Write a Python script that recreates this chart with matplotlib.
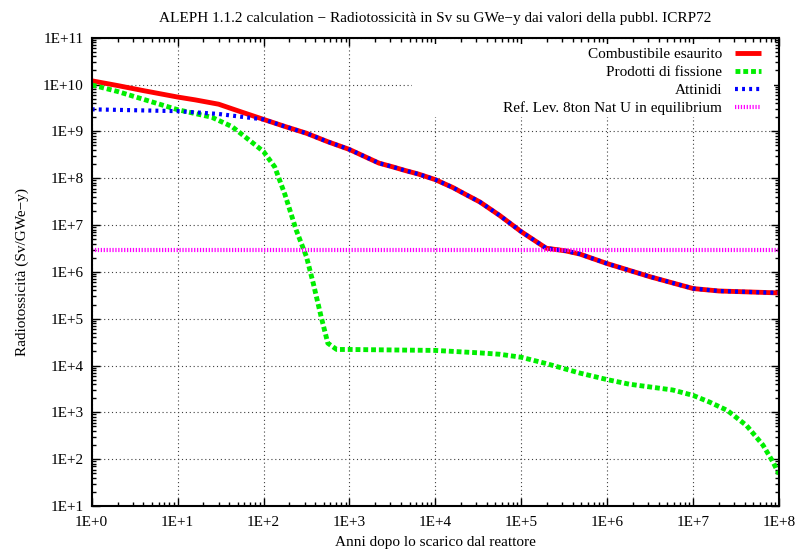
import numpy as np
import matplotlib
matplotlib.use('Agg')
import matplotlib.pyplot as plt
from matplotlib.patches import Rectangle
from matplotlib.ticker import LogLocator, FuncFormatter, NullFormatter

plt.rcParams['font.family'] = ['Liberation Serif', 'DejaVu Serif']
plt.rcParams['font.size'] = 11

# anni dopo lo scarico / radiotossicita' (Sv/GWe-y)
t_comb = [1, 2, 4, 10, 16, 30, 55, 100, 180, 316, 560, 1e3, 1.6e3, 2.2e3, 3.2e3, 4.5e3,
          6.3e3, 1e4, 1.6e4, 2.3e4, 3.3e4, 5.6e4, 1e5, 1.95e5, 3.3e5, 4.8e5, 1e6, 3.2e6,
          1e7, 2e7, 1e8]
v_comb = [1.2e10, 9.5e9, 7.4e9, 5.4e9, 4.7e9, 3.8e9, 2.6e9, 1.8e9, 1.26e9, 9.1e8, 6.0e8,
          4.1e8, 2.75e8, 2.1e8, 1.74e8, 1.45e8, 1.23e8, 9.3e7, 6.3e7, 4.4e7, 3.1e7, 1.6e7,
          7.2e6, 3.2e6, 2.8e6, 2.4e6, 1.5e6, 7.8e5, 4.4e5, 3.9e5, 3.55e5]

t_pf = [1, 2, 4.2, 10, 25, 43, 72, 100, 135, 178, 240, 316, 380, 468, 560, 710, 1e3,
        1e4, 3.3e4, 5.6e4, 1e5, 1.95e5, 4.8e5, 1e6, 1.8e6, 5.8e6, 1e7, 1.55e7, 2.5e7,
        4.2e7, 6.5e7, 8.5e7, 1e8]
v_pf = [9.8e9, 7.1e9, 4.7e9, 2.9e9, 2.0e9, 1.26e9, 6.0e8, 3.7e8, 1.74e8, 4.4e7, 7.8e6,
        2.1e6, 5.6e5, 1.1e5, 3.0e4, 2.2e4, 2.2e4, 2.1e4, 1.86e4, 1.74e4, 1.5e4, 1.1e4,
        6.9e3, 5.0e3, 4.0e3, 3.0e3, 2.3e3, 1.66e3, 1.1e3, 520, 200, 87, 48]

t_att = [1, 10, 30, 55, 100, 180, 316, 560, 1e3, 1.6e3, 2.2e3, 3.2e3, 4.5e3, 6.3e3, 1e4,
         1.6e4, 2.3e4, 3.3e4, 5.6e4, 1e5, 1.95e5, 3.3e5, 4.8e5, 1e6, 3.2e6, 1e7, 2e7, 1e8]
v_att = [2.95e9, 2.7e9, 2.35e9, 2.05e9, 1.8e9, 1.26e9, 9.1e8, 6.0e8, 4.1e8, 2.75e8,
         2.1e8, 1.74e8, 1.45e8, 1.23e8, 9.3e7, 6.3e7, 4.4e7, 3.1e7, 1.6e7, 7.2e6, 3.2e6,
         2.8e6, 2.4e6, 1.5e6, 7.8e5, 4.4e5, 3.9e5, 3.55e5]

t_ref = [1, 1e8]
v_ref = [3.0e6, 3.0e6]

fig = plt.figure(figsize=(7.96, 5.54), dpi=100)
ax = fig.add_axes([0.1152, 0.0866, 0.8635, 0.8454])

ax.plot(t_comb, v_comb, color='#ff0000', lw=3.5, solid_capstyle='butt',
        label='Combustibile esaurito')
ax.plot(t_pf, v_pf, color='#00ee00', lw=3.5, dashes=(1.0, 0.6),
        label='Prodotti di fissione')
ax.plot(t_att, v_att, color='#0000ff', lw=3.0, dashes=(0.7, 1.0),
        label='Attinidi')
ax.plot(t_ref, v_ref, color='#ff00ff', lw=3.0, dashes=(0.3, 0.4),
        label='Ref. Lev. 8ton Nat U in equilibrium')

ax.set_xscale('log')
ax.set_yscale('log')
ax.set_xlim(1, 1e8)
ax.set_ylim(10, 1e11)

fmt = FuncFormatter(lambda v, p: '1E+%d' % int(round(np.log10(v))))
for axis in (ax.xaxis, ax.yaxis):
    axis.set_major_locator(LogLocator(base=10, numticks=30))
    axis.set_minor_locator(LogLocator(base=10, subs=np.arange(2, 10), numticks=100))
    axis.set_major_formatter(fmt)
    axis.set_minor_formatter(NullFormatter())

ax.tick_params(which='both', direction='in', top=True, right=True, width=1.0)
ax.tick_params(which='major', length=6)
ax.tick_params(which='minor', length=3)
ax.tick_params(axis='x', pad=7)
ax.tick_params(axis='y', pad=6)
for s in ax.spines.values():
    s.set_linewidth(1.5)

ax.grid(True, which='major', color='0.25', lw=0.8, linestyle=(0, (1, 2.5)))

# white area behind the key, hides the grid there
ax.add_patch(Rectangle((0.466, 0.831), 0.527, 0.155, transform=ax.transAxes,
                       facecolor='white', edgecolor='none', zorder=1.6))

ax.set_title('ALEPH 1.1.2 calculation \u2212 Radiotossicit\u00e0 in Sv su GWe\u2212y '
             'dai valori della pubbl. ICRP72', fontsize=11, pad=11)
ax.set_xlabel('Anni dopo lo scarico dal reattore', labelpad=5)
ax.set_ylabel('Radiotossicit\u00e0 (Sv/GWe\u2212y)', labelpad=10)

leg = ax.legend(loc='upper right', bbox_to_anchor=(0.9942, 1.0085),
                markerfirst=False, frameon=False,
                handlelength=1.7, handletextpad=0.85, labelspacing=0.28,
                borderaxespad=0.6, borderpad=0.3)
for txt in leg.get_texts():
    txt.set_ha('right')
leg._legend_box.align = 'right'

fig.savefig('out.png', dpi=100)
